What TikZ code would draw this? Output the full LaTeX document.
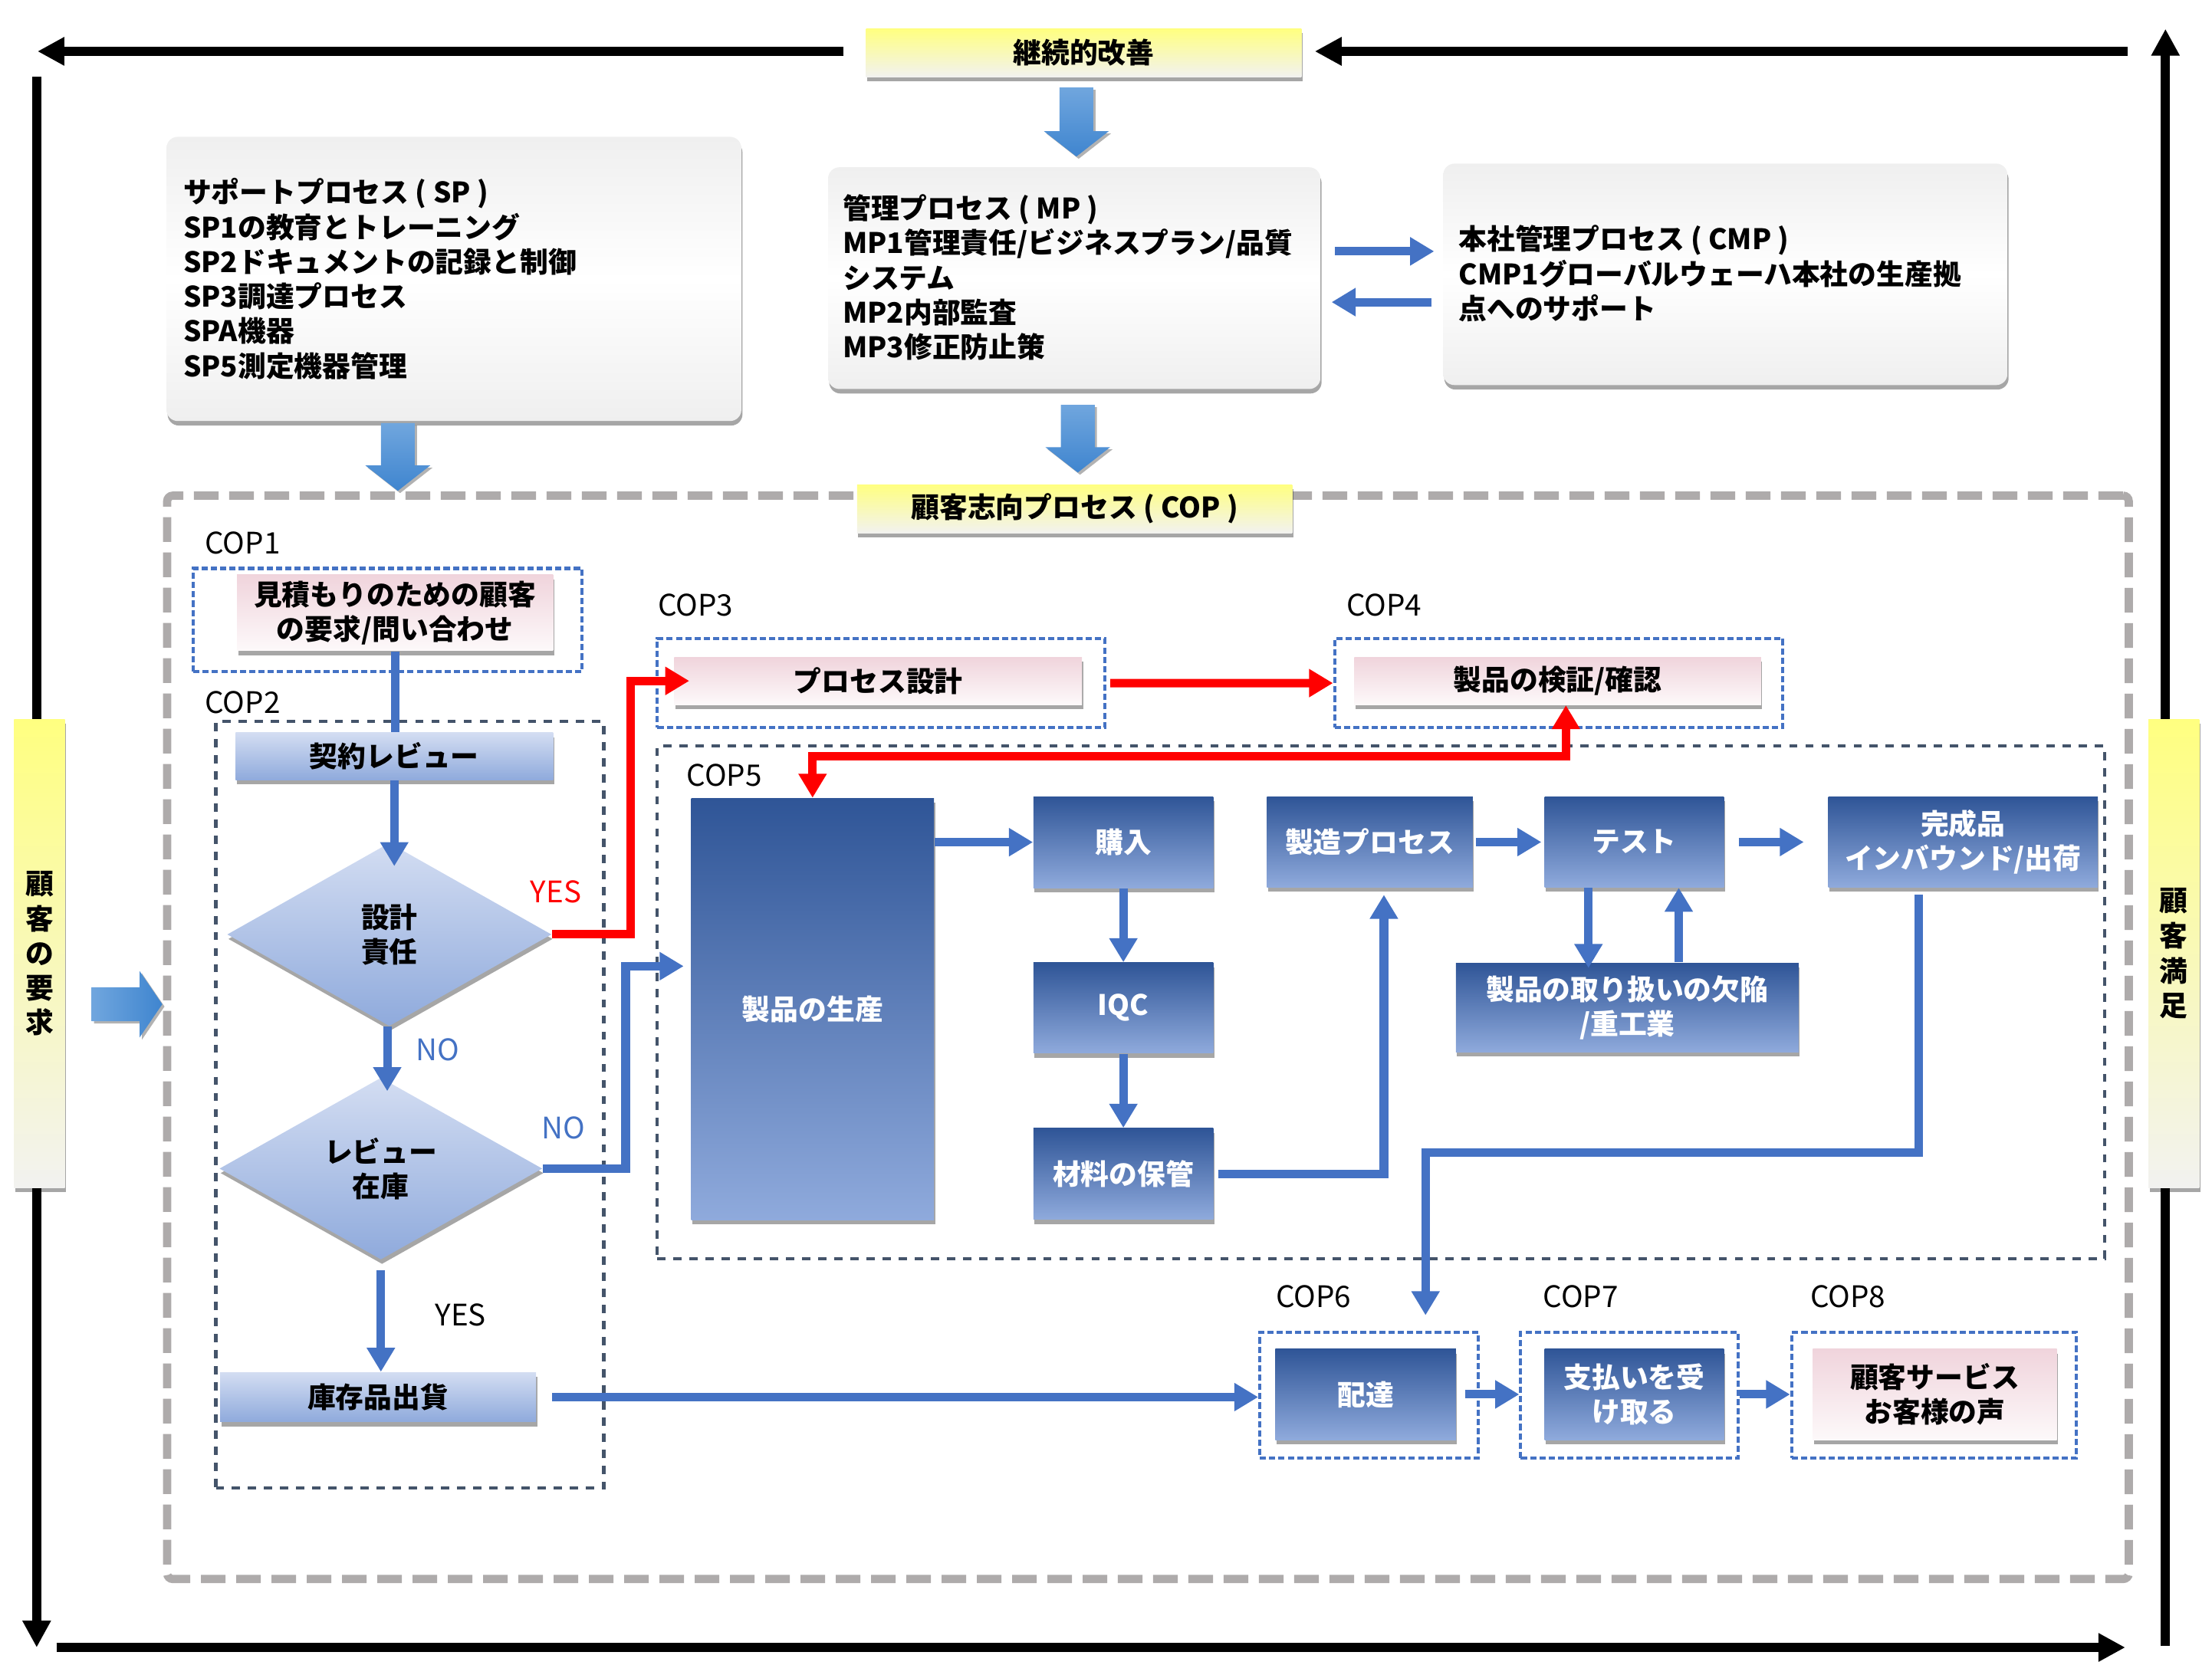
\documentclass[tikz,border=0pt]{standalone}
\usepackage{fontspec}
\setmainfont{Noto Sans CJK JP}
\usetikzlibrary{arrows.meta,shapes.geometric,shadows,calc}
\definecolor{cblue}{HTML}{4472C4}
\definecolor{dtop}{HTML}{2F5597}
\definecolor{dbot}{HTML}{8FAADC}
\definecolor{ltop}{HTML}{D3DDF2}
\definecolor{lbot}{HTML}{8FAADC}
\definecolor{ptop}{HTML}{F0D4DC}
\definecolor{pbot}{HTML}{FDF9FA}
\definecolor{ytop}{HTML}{FFFF80}
\definecolor{ybot}{HTML}{F2F2F0}
\definecolor{gtop}{HTML}{EFEFEF}
\definecolor{outgray}{HTML}{AEABAB}
\definecolor{slate}{HTML}{44546A}
\definecolor{fattop}{HTML}{70A6DE}
\definecolor{fatbot}{HTML}{3F85CF}
\newcommand\mkbox[7]{%
  \pgfmathsetmacro\bxX{(#3+#5)/2}%
  \pgfmathsetmacro\bxY{(#4+#6)/2}%
  \pgfmathsetmacro\bxW{(#5-#3)*0.5}%
  \pgfmathsetmacro\bxH{(#6-#4)*0.5}%
  \node[#2, minimum width=\bxW pt, minimum height=\bxH pt] (#1) at (\bxX,\bxY) {#7};}
\newcommand\fatdown[3]{%
  \path[fatv] (#1-12,#2) -- (#1+12,#2) -- (#1+12,#3-18) -- (#1+23,#3-18) -- (#1,#3)
    -- (#1-23,#3-18) -- (#1-12,#3-18) -- cycle;}
\tikzset{
  base/.style={inner sep=0pt, align=center, font=\bfseries\fontsize{10}{12.25}\selectfont},
  shad/.style={drop shadow={shadow xshift=0.4pt, shadow yshift=-1.6pt, opacity=0.35, fill=black}},
  dbox/.style={base, shad, top color=dtop, bottom color=dbot, text=white},
  lbox/.style={base, shad, top color=ltop, bottom color=lbot},
  pbox/.style={base, shad, top color=ptop, bottom color=pbot},
  ybox/.style={base, shad, top color=ytop, bottom color=ybot},
  gbox/.style={base, shad, top color=gtop, bottom color=gtop, middle color=white, rounded corners=4pt},
  bdash/.style={inner sep=0pt, draw=cblue, line width=1.1pt, dash pattern=on 2.2pt off 1.1pt},
  sdash/.style={inner sep=0pt, draw=slate, line width=1.1pt, dash pattern=on 2.9pt off 2.8pt},
  odash/.style={inner sep=0pt, draw=outgray, line width=2.9pt, dash pattern=on 8.75pt off 3.75pt, rounded corners=2pt},
  coplbl/.style={anchor=west, inner sep=0pt, font=\fontsize{10.5}{12}\selectfont},
  yn/.style={inner sep=0pt, font=\fontsize{10.5}{12}\selectfont},
  tip/.style={-{Triangle[length=8.5pt,width=9.5pt]}},
  conn/.style={draw=cblue, line width=3pt, tip},
  rconn/.style={draw=red, line width=3pt, tip},
  blk/.style={draw=black, line width=3.2pt, -{Triangle[length=9.5pt,width=9.5pt]}},
  fatv/.style={top color=fattop, bottom color=fatbot, drop shadow={shadow xshift=0.8pt, shadow yshift=-0.8pt, opacity=0.3, fill=black}},
  fath/.style={left color=fattop, right color=fatbot, drop shadow={shadow xshift=0.8pt, shadow yshift=-0.8pt, opacity=0.3, fill=black}},
  btext/.style={inner sep=0pt, anchor=west, align=left, font=\bfseries\fontsize{10}{12.3}\selectfont},
}
\begin{document}
\begin{tikzpicture}[x=0.5pt,y=-0.5pt]
\useasboundingbox (0,0) rectangle (1568,1187.5);

% outer black frame arrows
\coordinate (tl1) at (598,36.4);
\coordinate (tl2) at (26.6,36.4);
\coordinate (tr1) at (1508,36.4);
\coordinate (tr2) at (932,36.4);
\coordinate (lv1) at (26,54.5);
\coordinate (lv2) at (26,1168);
\coordinate (bh1) at (40,1168);
\coordinate (bh2) at (1506.5,1168);
\coordinate (rv1) at (1535,1167);
\coordinate (rv2) at (1535,20.5);
\draw[blk] (tl1) -- (tl2);
\draw[blk] (tr1) -- (tr2);
\draw[blk] (lv1) -- (lv2);
\draw[blk] (bh1) -- (bh2);
\draw[blk] (rv1) -- (rv2);

% top boxes
\mkbox{kaizen}{ybox}{614}{20.4}{922.5}{54.5}{継続的改善}
\mkbox{sp}{gbox}{118}{97}{525.5}{298.5}{}
\mkbox{mp}{gbox}{587}{118.6}{936}{275.8}{}
\mkbox{cmp}{gbox}{1023}{116}{1423}{273}{}
\node[btext] (sptext) at ($(sp.west)+(12,0)$) {サポートプロセス ( SP )\\SP1の教育とトレーニング\\SP2ドキュメントの記録と制御\\SP3調達プロセス\\SPA機器\\SP5測定機器管理};
\node[btext] (mptext) at ($(mp.west)+(10.5,-0.5)$) {管理プロセス ( MP )\\MP1管理責任/ビジネスプラン/品質\\システム\\MP2内部監査\\MP3修正防止策};
\node[btext] (cmptext) at ($(cmp.west)+(11,-0.5)$) {本社管理プロセス ( CMP )\\CMP1グローバルウェーハ本社の生産拠\\点へのサポート};

\draw[conn] ($(mp.east)+(10,-19)$) -- ($(mp.east -| cmp.west)+(-6,-19)$);
\draw[conn] ($(mp.east -| cmp.west)+(-8,17)$) -- ($(mp.east)+(7.5,17)$);

% fat arrows
\fatdown{763}{62}{111}
\fatdown{764}{287}{335}
\fatdown{282}{300}{348}
\path[fath] (65,700) -- (99,700) -- (99,688.5) -- (115,712) -- (99,735.5) -- (99,724) -- (65,724) -- cycle;

% side bars
\mkbox{leftbar}{ybox}{10}{510}{46}{842}{顧\\客\\の\\要\\求}
\mkbox{rightbar}{ybox, font=\bfseries\fontsize{10}{12.4}\selectfont}{1523}{510}{1559}{842}{顧\\客\\満\\足}

% COP frame
\mkbox{copframe}{odash}{118.5}{351.4}{1509}{1119.5}{}
\mkbox{coplabel}{ybox}{607.6}{343.5}{916}{378}{顧客志向プロセス ( COP )}

% containers
\mkbox{cop1}{bdash}{137}{403}{412.5}{476}{}
\mkbox{cop2}{sdash}{153}{511.6}{428}{1055}{}
\mkbox{cop3}{bdash}{466}{452.7}{783}{516}{}
\mkbox{cop4}{bdash}{946}{452.6}{1263.6}{516}{}
\mkbox{cop5}{sdash}{466}{529}{1492}{892.5}{}
\mkbox{cop6}{bdash}{893}{944.6}{1048}{1033.7}{}
\mkbox{cop7}{bdash}{1078}{944.6}{1232}{1033.7}{}
\mkbox{cop8}{bdash}{1270}{944.6}{1472}{1033.7}{}

\node[coplbl] (lcop1) at (145,385) {COP1};
\node[coplbl] (lcop2) at (145,498) {COP2};
\node[coplbl] (lcop3) at (466,429) {COP3};
\node[coplbl] (lcop4) at (954,429) {COP4};
\node[coplbl] (lcop5) at (486.5,549.7) {COP5};
\node[coplbl] (lcop6) at (904,919) {COP6};
\node[coplbl] (lcop7) at (1093.5,919) {COP7};
\node[coplbl] (lcop8) at (1283,919) {COP8};

% boxes
\mkbox{req}{pbox}{168}{407.6}{392}{461.4}{見積もりのための顧客\\の要求/問い合わせ}
\mkbox{keiyaku}{lbox}{167}{519.5}{392}{553}{契約レビュー}
\node[lbox, diamond, minimum width=115pt, minimum height=65pt] (d1) at (276,662.5) {設計\\責任};
\node[lbox, diamond, minimum width=114.5pt, minimum height=64.5pt] (d2) at (270,828.5) {レビュー\\在庫};
\mkbox{kozai}{lbox}{156}{973}{380}{1008}{庫存品出貨}
\mkbox{pdesign}{pbox}{478}{466}{767}{499.5}{プロセス設計}
\mkbox{verify}{pbox}{960}{466}{1248.4}{499.6}{製品の検証/確認}
\mkbox{prod}{dbox}{490}{566}{662}{865}{製品の生産}
\mkbox{kounyu}{dbox}{732.6}{564.7}{860}{629.5}{購入}
\mkbox{iqc}{dbox}{732.6}{682.6}{860}{746.7}{IQC}
\mkbox{zairyo}{dbox}{732.6}{800}{860}{864.5}{材料の保管}
\mkbox{seizo}{dbox}{898}{565}{1044}{629}{製造プロセス}
\mkbox{test}{dbox}{1095}{565}{1222}{629}{テスト}
\mkbox{kansei}{dbox}{1296}{565}{1487}{629}{完成品\\インバウンド/出荷}
\mkbox{kekkan}{dbox}{1032}{682.7}{1275}{746}{製品の取り扱いの欠陥\\/重工業}
\mkbox{haitatsu}{dbox}{904}{956.5}{1032}{1020.7}{配達}
\mkbox{shiharai}{dbox}{1095}{956.5}{1222}{1020.7}{支払いを受\\け取る}
\mkbox{service}{pbox}{1285}{956.5}{1458}{1020.7}{顧客サービス\\お客様の声}

% labels
\node[yn, text=red] (yes1) at (394,632) {YES};
\node[yn, text=cblue] (no1) at (310,744) {NO};
\node[yn, text=cblue] (no2) at (399.6,799.5) {NO};
\node[yn] (yes2) at (326.5,932.4) {YES};

% connectors
\draw[draw=cblue, line width=3pt] (req.south) -- (req.south |- keiyaku.north);
\draw[conn] (keiyaku.south) -- ($(keiyaku.south |- d1.north)+(0,17)$);
\draw[conn] ($(d1.south)+(-1.5,0)$) -- ($(d1.south |- d2.north)+(-1.5,10)$);
\draw[conn] ($(d2.south)+(0,7)$) -- (d2.south |- kozai.north);
\coordinate (ry) at (447,482.75);
\draw[rconn] (d1.east) -| (ry) -- ($(pdesign.west)+(11,0)$);
\coordinate (by) at (443.5,685);
\draw[conn] (d2.east) -| (by) -- ($(by -| prod.west)+(-5,0)$);
\draw[conn] ($(kozai.east)+(11,0)$) -- (kozai.east -| cop6.west);
\draw[rconn] ($(cop3.east)+(3,0)$) -- (cop4.west);
\coordinate (rj) at (1110,536);
\draw[rconn, {Triangle[length=8.5pt,width=9.5pt]}-{Triangle[length=8.5pt,width=9.5pt]}]
  (prod.north) -- (prod.north |- rj) -- (rj) -- (rj |- verify.south);
\draw[conn] (prod.east |- kounyu.west) -- (kounyu.west);
\draw[conn] (kounyu.south) -- (iqc.north);
\draw[conn] (iqc.south) -- (zairyo.north);
\draw[conn] ($(zairyo.east)+(3,0)$) -| ($(seizo.south)+(10,5)$);
\draw[conn] ($(seizo.east)+(2,0)$) -- ($(test.west)+(-2,0)$);
\draw[conn] ($(test.east)+(10,0)$) -- ($(test.east -| kansei.west)+(-17,0)$);
\coordinate (t1) at ($(test.south)+(-32.5,0)$);
\coordinate (t2) at ($(test.south)+(31.5,0)$);
\draw[conn] (t1) -- ($(t1 |- kekkan.north)+(0,4)$);
\draw[conn] (t2 |- kekkan.north) -- (t2);
\coordinate (kt) at (1010.5,817);
\draw[conn] ($(kansei.south)+(-31.5,5)$) |- (kt) -- ($(kt |- cop6.north)+(0,-11)$);
\draw[conn] ($(haitatsu.east)+(6,0)$) -- (haitatsu.east -| cop7.west);
\draw[conn] (shiharai.east -| cop7.east) -- (shiharai.east -| cop8.west);
\end{tikzpicture}
\end{document}
